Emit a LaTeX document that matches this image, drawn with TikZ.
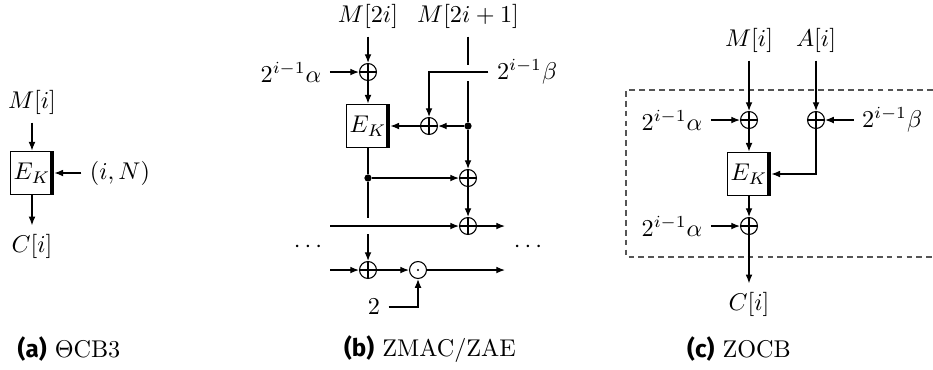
\documentclass[tikz,border=0pt]{standalone}
\usepackage{fontspec}
\usepackage{tikz}
\usetikzlibrary{arrows.meta, positioning}
\newfontfamily\capfont{Fira Sans}
\definecolor{framegray}{RGB}{85,85,85}
\tikzstyle{flow} = [-{Latex[length=3.6pt, width=2.8pt]}, line width=0.5pt]
\tikzstyle{wire} = [line width=0.5pt]
\tikzstyle{xorop} = [circle, draw, line width=0.45pt, minimum size=7pt, inner sep=0pt,
    path picture={\draw[line width=0.45pt] (path picture bounding box.north) -- (path picture bounding box.south)
        (path picture bounding box.west) -- (path picture bounding box.east);}]
\tikzstyle{mulop} = [circle, draw, line width=0.45pt, minimum size=7pt, inner sep=0pt,
    path picture={\fill (path picture bounding box.center) circle (0.5pt);}]
\tikzstyle{cipher} = [draw, line width=0.45pt, minimum width=18pt, minimum height=18pt, inner sep=0pt,
    path picture={\draw[line width=3.2pt] (path picture bounding box.north east) -- (path picture bounding box.south east);}]
\tikzstyle{joint} = [circle, fill, minimum size=3pt, inner sep=0pt]
\tikzstyle{subcap} = [font=\normalsize]

\begin{document}
\begin{tikzpicture}[x=0.413pt, y=-0.413pt]
    \useasboundingbox (0,0) rectangle (933,369);
    % (a)
    \node (ma) at (32,102) {$M[i]$};
    \node[cipher] (eka) at (32,173) {$E_K$};
    \node (tweaka) at (120,173) {$(i,N)$};
    \node (ca) at (32,246) {$C[i]$};
    \draw[flow] (ma) -- (eka);
    \draw[flow] (tweaka) -- (eka);
    \draw[flow] (eka) -- (ca);
    % (b)
    \node (m2i) at (368,16) {$M[2i]$};
    \node (m2ii) at (468,16) {$M[2i+1]$};
    \node[xorop] (xb1) at (368,72) {};
    \node (alphab) at (291,72) {$2^{i-1}\alpha$};
    \node (betab) at (527,72) {$2^{i-1}\beta$};
    \node[cipher] (ekb) at (368,126) {$E_K$};
    \node[xorop] (xb2) at (429,126) {};
    \node[joint] (jb1) at (468,126) {};
    \node[joint] (jb2) at (368,178) {};
    \node[xorop] (xb3) at (468,178) {};
    \node[xorop] (xb4) at (468,226) {};
    \node[xorop] (xb5) at (368,270) {};
    \node[mulop] (mb) at (418,270) {};
    \node (twob) at (374,307) {$2$};
    \node (dotsl) at (308,247) {$\cdots$};
    \node (dotsr) at (528,247) {$\cdots$};
    \coordinate (gb1) at (468,65);
    \coordinate (gb2) at (468,81);
    \coordinate (gb3) at (368,218);
    \coordinate (gb4) at (368,234);
    \coordinate (inb1) at (330,226);
    \coordinate (outb1) at (505,226);
    \coordinate (inb2) at (330,270);
    \coordinate (outb2) at (505,270);
    \draw[flow] (m2i) -- (xb1);
    \draw[flow] (alphab) -- (xb1);
    \draw[flow] (xb1) -- (ekb);
    \draw[wire] (m2ii) -- (gb1);
    \draw[wire] (gb2) -- (jb1);
    \draw[flow] (betab) -| (xb2);
    \draw[flow] (jb1) -- (xb2);
    \draw[flow] (xb2) -- (ekb);
    \draw[flow] (jb1) -- (xb3);
    \draw[wire] (ekb) -- (jb2);
    \draw[flow] (jb2) -- (xb3);
    \draw[wire] (jb2) -- (gb3);
    \draw[flow] (gb4) -- (xb5);
    \draw[flow] (xb3) -- (xb4);
    \draw[flow] (inb1) -- (xb4);
    \draw[flow] (xb4) -- (outb1);
    \draw[flow] (inb2) -- (xb5);
    \draw[flow] (xb5) -- (mb);
    \draw[flow] (mb) -- (outb2);
    \draw[flow] (twob) -| (mb);
    % (c)
    \draw[framegray, line width=0.45pt, dash pattern=on 2.4pt off 1.7pt]
        (933,90) -- (626,90) -- (626,257) -- (933,257);
    \node (mc) at (749,40) {$M[i]$};
    \node (ac) at (816,40) {$A[i]$};
    \node[xorop] (xc1) at (749,120) {};
    \node[xorop] (xc2) at (816,120) {};
    \node (alphac1) at (672,120) {$2^{i-1}\alpha$};
    \node (betac) at (892,120) {$2^{i-1}\beta$};
    \node[cipher] (ekc) at (749,174) {$E_K$};
    \node[xorop] (xc3) at (749,226) {};
    \node (alphac2) at (672,226) {$2^{i-1}\alpha$};
    \node (cc) at (749,304) {$C[i]$};
    \draw[flow] (mc) -- (xc1);
    \draw[flow] (ac) -- (xc2);
    \draw[flow] (alphac1) -- (xc1);
    \draw[flow] (betac) -- (xc2);
    \draw[flow] (xc1) -- (ekc);
    \draw[flow] (xc2) |- (ekc);
    \draw[flow] (ekc) -- (xc3);
    \draw[flow] (alphac2) -- (xc3);
    \draw[flow] (xc3) -- (cc);
    % captions
    \node[subcap] (capa) at (69,349) {{\capfont\bfseries (a)} $\Theta$CB3};
    \node[subcap] (capb) at (430,349) {{\capfont\bfseries (b)} ZMAC/ZAE};
    \node[subcap] (capc) at (739,349) {{\capfont\bfseries (c)} ZOCB};
\end{tikzpicture}
\end{document}
